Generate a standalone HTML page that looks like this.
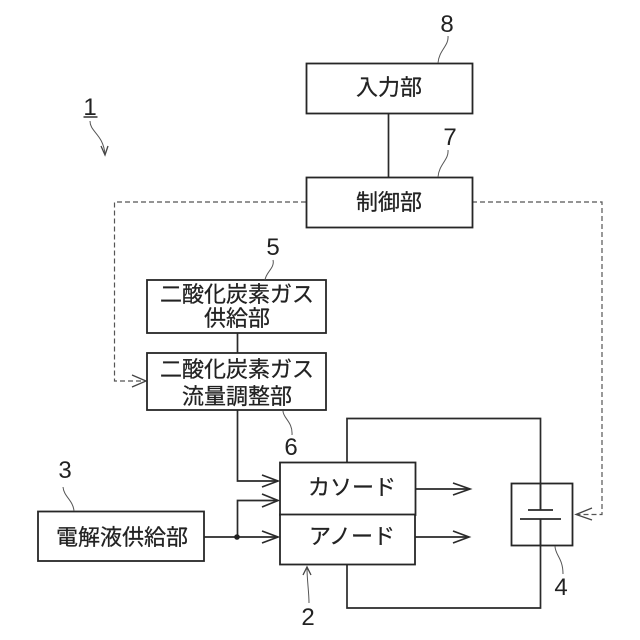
<!DOCTYPE html>
<html><head><meta charset="utf-8"><style>
html,body{margin:0;padding:0;background:#fff}
svg{display:block}
text{font-family:"Liberation Sans","Noto Sans CJK JP",sans-serif;fill:#222;text-anchor:middle}
.n{font-size:24px}
.t{font-size:22px;stroke:#222;stroke-width:.25}
.b{fill:#fff;stroke:#262626;stroke-width:1.8}
.l{fill:none;stroke:#2a2a2a;stroke-width:1.7}
.w{fill:none;stroke:#555;stroke-width:1}
.d{fill:none;stroke:#555;stroke-width:1.2;stroke-dasharray:5 3}
.a{fill:none;stroke:#2a2a2a;stroke-width:1.7}
.da{fill:none;stroke:#444;stroke-width:1.3}
</style></head><body>
<svg width="640" height="640" viewBox="0 0 640 640" xmlns="http://www.w3.org/2000/svg">
<rect width="640" height="640" fill="#fff"/>
<path class="l" d="M388.500 113V177M237.500 333V353"/>
<path class="d" d="M306 202H114.500V381H145M472 202H602V514.500H577"/>
<path class="da" d="M132 375L146 381L132 387M592 508L576 514.500L592 520"/>
<path class="l" d="M347 463V418.500H540.500V510M540.500 519V608H347V564"/>
<path class="l" d="M237.500 410V481H278M204 537H278M237.500 537V500.500H278M415 489H470M415 537H469"/>
<path class="a" d="M262 475L278 481L262 487M262 494L278 500.500L262 507M262 531L278 537L262 543M453 483L470 489L453 495M453 531L469 537L453 543"/>
<circle cx="237" cy="537" r="2.800" fill="#222"/>
<rect class="b" x="306.500" y="63.500" width="166" height="50"/>
<rect class="b" x="306.500" y="177.500" width="166" height="50"/>
<rect class="b" x="147" y="280" width="179" height="53"/>
<rect class="b" x="147" y="353" width="179" height="57"/>
<rect class="b" x="38" y="511.500" width="166" height="49.500"/>
<rect class="b" x="280" y="462.500" width="135.500" height="52.500"/>
<rect class="b" x="280" y="514.500" width="135" height="50"/>
<rect x="511.500" y="483.500" width="61" height="62" fill="none" stroke="#262626" stroke-width="1.800"/>
<path class="l" d="M528 510H553M520 519H561"/>
<path class="l" d="M540.500 483V510M540.500 519V546"/>
<path class="w" d="M448 36C449 46 439 50 438 63M448 150C449 160 439 164 438 177M273 260C275 268 266 272 265 280M283 411C283 418 293 422 292 435M63 487C64 497 73 500 74 511M555 546C555 555 563 558 563 574M309 603C309 592 307 580 307 568M90 121C90 132 103 134 105 154"/>
<path class="da" d="M101 146L105 155L108 146M303 575L307 567L311 575" stroke-width="1"/>
<path d="M83.500 117H97.500" stroke="#222" stroke-width="1.400"/>
<text class="n" x="90" y="115">1</text>
<text class="n" x="308" y="625">2</text>
<text class="n" x="65" y="478">3</text>
<text class="n" x="561" y="595">4</text>
<text class="n" x="273" y="255">5</text>
<text class="n" x="291" y="455">6</text>
<text class="n" x="450" y="145">7</text>
<text class="n" x="447" y="32">8</text>
<text class="t" x="389" y="95">入力部</text>
<text class="t" x="389" y="210">制御部</text>
<text class="t" x="237" y="302">二酸化炭素ガス</text>
<text class="t" x="237" y="326">供給部</text>
<text class="t" x="237" y="377">二酸化炭素ガス</text>
<text class="t" x="237" y="404">流量調整部</text>
<text class="t" x="122" y="545">電解液供給部</text>
<text class="t" x="352" y="495">カソード</text>
<text class="t" x="352" y="544">アノード</text>
</svg>
</body></html>
